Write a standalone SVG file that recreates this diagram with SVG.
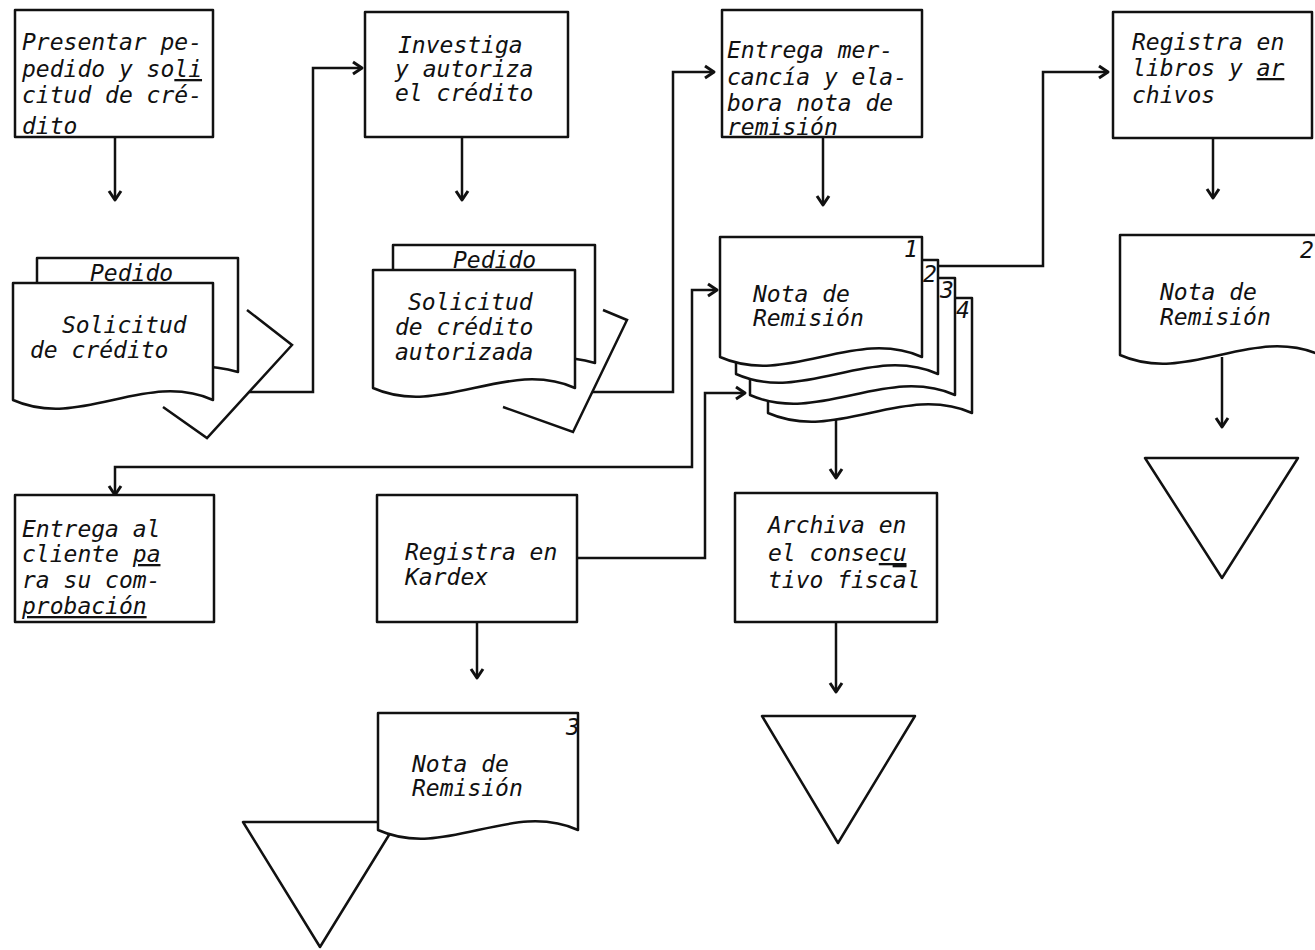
<svg xmlns="http://www.w3.org/2000/svg" width="1315" height="950" viewBox="0 0 1315 950">
<style>
.b{fill:#fff;stroke:#111;stroke-width:2.5;stroke-linejoin:round}
.c{fill:none;stroke:#111;stroke-width:2.5;stroke-linejoin:miter}
.t{font-family:"DejaVu Sans Mono","Liberation Mono",monospace;font-style:italic;font-size:23px;fill:#111}
.u{text-decoration:underline}
.o{text-decoration:overline}
</style>
<defs>
<marker id="ar" markerUnits="userSpaceOnUse" markerWidth="14" markerHeight="14" refX="11" refY="7" orient="auto-start-reverse" overflow="visible">
<path d="M2,1 L11,7 L2,13" fill="none" stroke="#111" stroke-width="3" stroke-linejoin="round"/>
</marker>
</defs>
<rect width="1315" height="950" fill="#fff"/>

<g id="connectors">
<path class="c" d="M115,137 V200" marker-end="url(#ar)"/>
<path class="c" d="M249,392 H313 V68 H362" marker-end="url(#ar)"/>
<path class="c" d="M462,137 V200" marker-end="url(#ar)"/>
<path class="c" d="M592,392 H673 V72 H714" marker-end="url(#ar)"/>
<path class="c" d="M823,137 V205" marker-end="url(#ar)"/>
<path class="c" d="M938,266 H1043 V72 H1108" marker-end="url(#ar)"/>
<path class="c" d="M1213,138 V198" marker-end="url(#ar)"/>
<path class="c" d="M1222,357 V427" marker-end="url(#ar)"/>
<path class="c" d="M717,290 H692 V467 H115 V495" marker-start="url(#ar)" marker-end="url(#ar)"/>
<path class="c" d="M577,558 H705 V393 H745" marker-end="url(#ar)"/>
<path class="c" d="M836,414 V478" marker-end="url(#ar)"/>
<path class="c" d="M836,622 V692" marker-end="url(#ar)"/>
<path class="c" d="M477,622 V678" marker-end="url(#ar)"/>
</g>

<g id="n1">
<rect class="b" x="15" y="10" width="198" height="127"/>
<text class="t" x="22" y="50">Presentar pe-</text>
<text class="t" x="22" y="77">pedido y so<tspan class="u">li</tspan></text>
<text class="t" x="22" y="103">citud de cré-</text>
<text class="t" x="22" y="134">dito</text>
</g>

<g id="d1">
<path class="b" d="M37,258 H238 V372 C171,352 104,392 37,372 Z"/>
<path class="b" d="M13,283 H213 V400 C146,370 80,430 13,400 Z"/>
<text class="t" x="90" y="281">Pedido</text>
<text class="t" x="62" y="333">Solicitud</text>
<text class="t" x="30" y="358">de crédito</text>
<path class="c" d="M247,310 L292,345 L207,438 L163,407"/>
</g>

<g id="n2">
<rect class="b" x="365" y="12" width="203" height="125"/>
<text class="t" x="398" y="53">Investiga</text>
<text class="t" x="395" y="77">y autoriza</text>
<text class="t" x="395" y="101">el crédito</text>
</g>

<g id="d2">
<path class="b" d="M393,245 H595 V363 C528,343 460,383 393,363 Z"/>
<path class="b" d="M373,270 H575 V388 C508,358 440,418 373,388 Z"/>
<text class="t" x="453" y="268">Pedido</text>
<text class="t" x="408" y="310">Solicitud</text>
<text class="t" x="395" y="335">de crédito</text>
<text class="t" x="395" y="360">autorizada</text>
<path class="c" d="M603,310 L627,320 L573,432 L503,407"/>
</g>

<g id="n3">
<rect class="b" x="722" y="10" width="200" height="127"/>
<text class="t" x="727" y="58">Entrega mer-</text>
<text class="t" x="727" y="85">cancía y ela-</text>
<text class="t" x="727" y="111">bora nota de</text>
<text class="t" x="727" y="135">remisión</text>
</g>

<g id="d3">
<path class="b" d="M768,298 H972 V413 C904,383 836,443 768,413 Z"/>
<path class="b" d="M750,278 H955 V395 C887,365 818,425 750,395 Z"/>
<path class="b" d="M736,260 H938 V374 C871,344 803,404 736,374 Z"/>
<path class="b" d="M720,237 H922 V357 C855,327 787,387 720,357 Z"/>
<text class="t" x="753" y="302">Nota de</text>
<text class="t" x="753" y="326">Remisión</text>
<text class="t" x="904" y="257" font-size="19">1</text>
<text class="t" x="923" y="282" font-size="19">2</text>
<text class="t" x="940" y="298" font-size="19">3</text>
<text class="t" x="956" y="318" font-size="19">4</text>
</g>

<g id="n4">
<rect class="b" x="1113" y="12" width="199" height="126"/>
<text class="t" x="1132" y="50">Registra en</text>
<text class="t" x="1132" y="76">libros y <tspan class="u">ar</tspan></text>
<text class="t" x="1132" y="103">chivos</text>
</g>

<g id="d4">
<path class="b" d="M1120,235 H1320 V355 C1253,325 1187,385 1120,355 Z"/>
<text class="t" x="1300" y="258" font-size="19">2</text>
<text class="t" x="1160" y="300">Nota de</text>
<text class="t" x="1160" y="325">Remisión</text>
</g>

<g id="t4">
<path class="b" d="M1145,458 H1298 L1222,578 Z"/>
</g>

<g id="n5">
<rect class="b" x="15" y="495" width="199" height="127"/>
<text class="t" x="22" y="537">Entrega al</text>
<text class="t" x="22" y="562">cliente <tspan class="u">pa</tspan></text>
<text class="t" x="22" y="588">ra su com-</text>
<text class="t u" x="22" y="614">probación</text>
</g>

<g id="n6">
<rect class="b" x="377" y="495" width="200" height="127"/>
<text class="t" x="405" y="560">Registra en</text>
<text class="t" x="405" y="585">Kardex</text>
</g>

<g id="n7">
<rect class="b" x="735" y="493" width="202" height="129"/>
<text class="t" x="768" y="533">Archiva en</text>
<text class="t" x="768" y="561">el conse<tspan class="u">cu</tspan></text>
<text class="t" x="768" y="588">tivo fisc<tspan class="o">a</tspan>l</text>
</g>

<g id="t7">
<path class="b" d="M762,716 H915 L838,843 Z"/>
</g>

<g id="t6">
<path class="b" d="M243,822 H397 L320,947 Z"/>
</g>

<g id="d6">
<path class="b" d="M378,713 H578 V830 C511,800 445,860 378,830 Z"/>
<text class="t" x="566" y="735" font-size="19">3</text>
<text class="t" x="412" y="772">Nota de</text>
<text class="t" x="412" y="796">Remisión</text>
</g>
</svg>
